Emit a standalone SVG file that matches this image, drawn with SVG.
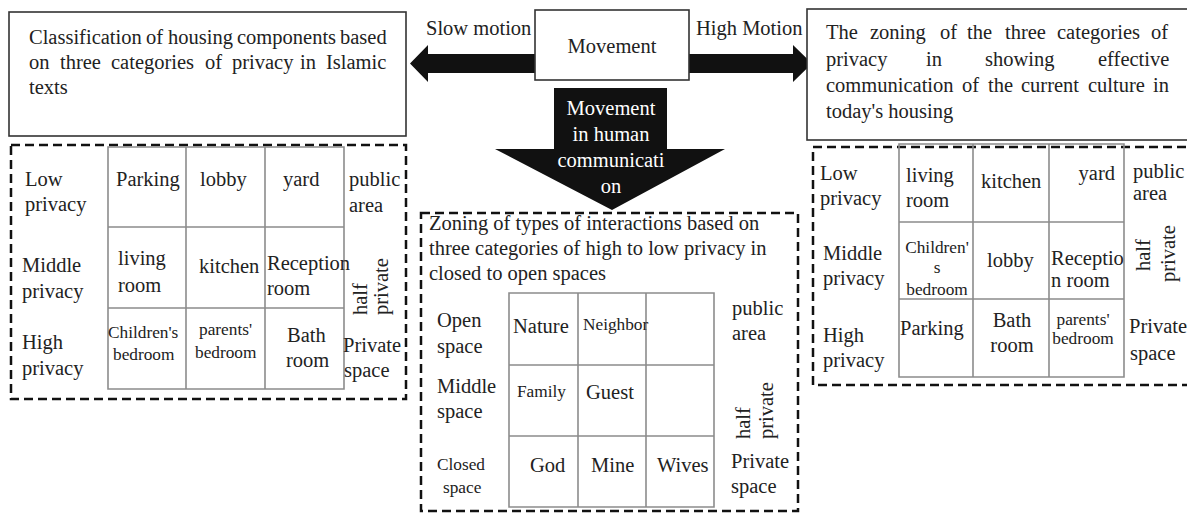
<svg xmlns="http://www.w3.org/2000/svg" width="1187" height="513" viewBox="0 0 1187 513" font-family="'Liberation Serif','Times New Roman',serif">
<style>
text{font-family:"Liberation Serif","Times New Roman",serif;font-size:20.5px;fill:#222}
.s{font-size:17.3px}
.w{fill:#fff}
.m{text-anchor:middle}
.e{text-anchor:end}
.box{fill:#fff;stroke:#333;stroke-width:1.6}
.dash{fill:none;stroke:#111;stroke-width:2.5;stroke-dasharray:9 5}
.grid{fill:none;stroke:#8c8c8c;stroke-width:1.6}
.arrow{fill:#111}
</style>
<rect width="1187" height="513" fill="#fff"/>
<g id="connectors">
<polygon class="arrow" points="410,63.5 428,45 428,54 537,54 537,73 428,73 428,82"/>
<polygon class="arrow" points="812,63.5 793,45 793,54 688,54 688,73 793,73 793,82"/>
<polygon class="arrow" points="554,88 667,88 667,149 725,149 612,210 495,149 554,149"/>
<text class="w m" x="611" y="115">Movement</text>
<text class="w m" x="611" y="141">in human</text>
<text class="w m" x="611" y="167">communicati</text>
<text class="w m" x="611" y="193">on</text>
<text x="426" y="35">Slow motion</text>
<text x="696" y="35">High Motion</text>
</g>
<g id="movement">
<rect class="box" x="535" y="10" width="154" height="70" stroke-width="2"/>
<text class="m" x="612" y="53">Movement</text>
</g>
<g id="left-title">
<rect class="box" x="9" y="12" width="397" height="124"/>
<text y="44"><tspan x="29">Classification</tspan><tspan x="146">of</tspan><tspan x="168">housing</tspan><tspan x="237">components</tspan><tspan x="340">based</tspan></text>
<text y="69"><tspan x="29">on</tspan><tspan x="60">three</tspan><tspan x="111">categories</tspan><tspan x="205">of</tspan><tspan x="232">privacy</tspan><tspan x="300">in</tspan><tspan x="326">Islamic</tspan></text>
<text x="29" y="94">texts</text>
</g>
<g id="left-zoning">
<rect class="dash" x="11" y="145" width="395" height="254"/>
<path class="grid" d="M108,147V389H344V147ZM186,147V389M265,147V389M108,227H344M108,308H344"/>
<text x="25" y="186">Low</text><text x="25" y="211">privacy</text>
<text x="22" y="272">Middle</text><text x="22" y="298">privacy</text>
<text x="22" y="349">High</text><text x="22" y="375">privacy</text>
<text x="116" y="186">Parking</text>
<text x="200" y="186">lobby</text>
<text x="283" y="186">yard</text>
<text x="118" y="265">living</text><text x="118" y="292">room</text>
<text x="199" y="273">kitchen</text>
<text x="267" y="270">Reception</text><text x="267" y="295">room</text>
<text class="s" x="108" y="338">Children's</text><text class="s" x="113" y="360">bedroom</text>
<text class="s" x="199" y="335">parents'</text><text class="s" x="195" y="358">bedroom</text>
<text x="287" y="342">Bath</text><text x="286" y="367">room</text>
<text x="349" y="186">public</text><text x="349" y="212">area</text>
<text transform="translate(367,315) rotate(-90)">half</text>
<text transform="translate(388,315) rotate(-90)">private</text>
<text x="343" y="352">Private</text><text x="344" y="377">space</text>
</g>
<g id="center-zoning">
<rect class="dash" x="421" y="213" width="377" height="298"/>
<text x="429" y="230">Zoning of types of interactions based on</text>
<text x="429" y="255">three categories of high to low privacy in</text>
<text x="429" y="280">closed to open spaces</text>
<path class="grid" d="M509,293V507H714V293ZM578,293V507M646,293V507M509,365H714M509,436H714"/>
<text x="437" y="327">Open</text><text x="437" y="353">space</text>
<text x="437" y="393">Middle</text><text x="437" y="418">space</text>
<text class="s" x="437" y="470">Closed</text><text class="s" x="443" y="493">space</text>
<text x="513" y="333">Nature</text>
<text class="s" x="583" y="330">Neighbor</text>
<text class="s" x="517" y="397">Family</text>
<text x="586" y="399">Guest</text>
<text x="530" y="472">God</text>
<text x="591" y="472">Mine</text>
<text x="657" y="472">Wives</text>
<text x="732" y="315">public</text><text x="732" y="340">area</text>
<text transform="translate(750,439) rotate(-90)">half</text>
<text transform="translate(773,439) rotate(-90)">private</text>
<text x="731" y="468">Private</text><text x="731" y="493">space</text>
</g>
<g id="right-title">
<rect class="box" x="807" y="9" width="390" height="131"/>
<text y="39"><tspan x="826">The</tspan><tspan x="870">zoning</tspan><tspan x="940">of</tspan><tspan x="967">the</tspan><tspan x="1005">three</tspan><tspan x="1057">categories</tspan><tspan x="1151">of</tspan></text>
<text y="66"><tspan x="826">privacy</tspan><tspan x="926">in</tspan><tspan x="985">showing</tspan><tspan x="1098">effective</tspan></text>
<text y="92"><tspan x="826">communication</tspan><tspan x="962">of</tspan><tspan x="988">the</tspan><tspan x="1021">current</tspan><tspan x="1088">culture</tspan><tspan x="1153">in</tspan></text>
<text x="826" y="118">today's housing</text>
</g>
<g id="right-zoning">
<rect class="dash" x="813" y="147" width="385" height="238"/>
<path class="grid" d="M899,144V377H1124V144ZM973,144V377M1049,144V377M899,222H1124M899,299H1124"/>
<text x="820" y="180">Low</text><text x="820" y="205">privacy</text>
<text x="823" y="260">Middle</text><text x="823" y="285">privacy</text>
<text x="823" y="342">High</text><text x="823" y="367">privacy</text>
<text x="906" y="182">living</text><text x="906" y="207">room</text>
<text x="981" y="188">kitchen</text>
<text class="e" x="1115" y="180">yard</text>
<text class="s m" x="937" y="253">Children'</text><text class="s m" x="937" y="273">s</text><text class="s m" x="937" y="295">bedroom</text>
<text x="987" y="267">lobby</text>
<text x="1051" y="265">Receptio</text><text x="1051" y="287">n room</text>
<text x="900" y="335">Parking</text>
<text class="m" x="1012" y="327">Bath</text><text class="m" x="1012" y="352">room</text>
<text class="s m" x="1083" y="325">parents'</text><text class="s m" x="1083" y="344">bedroom</text>
<text x="1133" y="178">public</text><text x="1133" y="200">area</text>
<text transform="translate(1150,271) rotate(-90)">half</text>
<text transform="translate(1175,282) rotate(-90)">private</text>
<text x="1129" y="333">Private</text><text x="1130" y="360">space</text>
</g>
</svg>
